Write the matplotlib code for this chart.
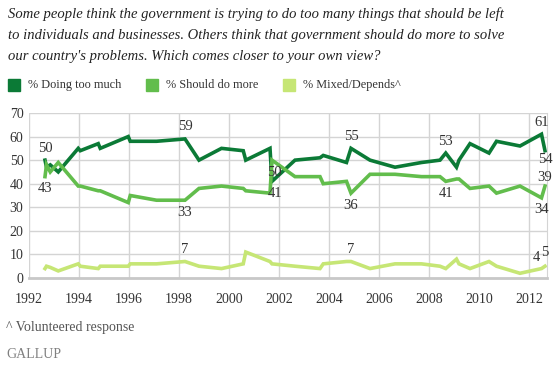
import matplotlib
matplotlib.use("Agg")
import matplotlib.pyplot as plt
from matplotlib.patches import Rectangle

# ---- data ----
dates = [1992.64, 1992.70, 1992.85, 1993.17, 1993.97, 1994.05, 1994.77, 1994.85,
         1995.97, 1996.05, 1997.10, 1998.24, 1998.80, 1999.70, 2000.57, 2000.67,
         2001.64, 2001.72, 2002.64, 2003.64, 2003.77, 2004.70, 2004.88, 2005.64,
         2006.64, 2007.70, 2008.44, 2008.67, 2009.10, 2009.20, 2009.64, 2010.40,
         2010.70, 2011.64, 2012.50, 2012.64]
too_much = [50, 47, 48, 45, 55, 54, 57, 55,
            60, 58, 58, 59, 50, 55, 54, 50,
            55, 41, 50, 51, 52, 49, 55, 50,
            47, 49, 50, 53, 47, 50, 57, 53,
            58, 56, 61, 54]
do_more = [43, 48, 45, 49, 39, 39, 37, 37,
           32, 35, 33, 33, 38, 39, 38, 37,
           36, 50, 43, 43, 40, 41, 36, 44,
           44, 43, 43, 41, 42, 42, 38, 39,
           36, 39, 34, 39]
mixed = [4, 5, 4.5, 3, 6, 5, 4, 5,
         5, 6, 6, 7, 5, 4, 6, 11,
         7, 6, 5, 4, 6, 7, 7, 4,
         6, 6, 5, 4, 8, 6, 4, 7,
         5, 2, 4, 5]

series_names = ["% Doing too much", "% Should do more", "% Mixed/Depends^"]
colors = ["#0b7a36", "#62bd4c", "#c6e675"]
year_ticks = list(range(1992, 2013, 2))
y_ticks = list(range(0, 71, 10))

# labels: (series index, date index, text, position)
labels = [
    (0, 0, "50", "above"), (1, 0, "43", "below"),
    (0, 11, "59", "above"), (1, 11, "33", "below"),
    (1, 17, "50", "under"), (0, 17, "41", "under"),
    (0, 22, "55", "above"), (1, 22, "36", "below"),
    (0, 27, "53", "above"), (1, 27, "41", "below"),
    (0, 34, "61", "above"), (1, 34, "34", "below"),
    (0, 35, "54", "below_tight"), (1, 35, "39", "above_tight"),
    (2, 11, "7", "above"), (2, 22, "7", "above"),
    (2, 34, "4", "aboveleft"), (2, 35, "5", "aboveright"),
]

W, H = 553, 374
fig = plt.figure(figsize=(W / 100, H / 100), dpi=100)
serif = "Liberation Serif"

ax = fig.add_axes([29 / W, (H - 278) / H, (547 - 29) / W, (278 - 113) / H])
ax.set_xlim(1992, 1992 + 518 / 25)
ax.set_ylim(0, 70)
ax.set_xticks(year_ticks)
ax.set_yticks(y_ticks)
ax.grid(True, color="#d4d4d4", lw=1)
ax.set_axisbelow(True)
for s in ["top", "left"]:
    ax.spines[s].set_visible(False)
ax.spines["right"].set_color("#d4d4d4")
ax.spines["bottom"].set_color("#c8c8c8")
ax.spines["bottom"].set_linewidth(2)
ax.tick_params(length=0, labelsize=10, labelcolor="#333333")
ax.tick_params(axis="x", pad=11)
ax.tick_params(axis="y", pad=4)
for lab in ax.get_xticklabels() + ax.get_yticklabels():
    lab.set_fontfamily(serif)

data = [too_much, do_more, mixed]
for vals, c in zip(data, colors):
    ax.plot(dates, vals, color=c, lw=2.6, solid_joinstyle="miter", clip_on=False)

offs = {"above": (0, 4, "center", "bottom"), "below": (0, -4, "center", "top"),
        "above_tight": (0, 1.5, "center", "bottom"), "below_tight": (0, -1.5, "center", "top"),
        "under": (2, -9, "center", "center"),
        "aboveleft": (-4, 3, "center", "bottom"), "aboveright": (0, 5, "center", "bottom")}
for si, di, txt, pos in labels:
    dx, dy, ha, va = offs[pos]
    ax.annotate(txt, (dates[di], data[si][di]), xytext=(dx, dy), textcoords="offset points",
                ha=ha, va=va, fontsize=10.5, family=serif, color="#333333")

title = ("Some people think the government is trying to do too many things that should be left\n"
         "to individuals and businesses. Others think that government should do more to solve\n"
         "our country's problems. Which comes closer to your own view?")
fig.text(8 / W, 1 - 7 / H, title, ha="left", va="top", fontsize=10.5, family=serif,
         style="italic", color="#222222", linespacing=1.8)

leg_x = [8, 146, 283]
for x, c, name in zip(leg_x, colors, series_names):
    fig.patches.append(Rectangle((x / W, 1 - 91 / H), 12 / W, 12 / H, color=c,
                                 transform=fig.transFigure, figure=fig))
    fig.text((x + 20) / W, 1 - 85 / H, name, ha="left", va="center", fontsize=8.8,
             family=serif, color="#333333")

fig.text(6 / W, 1 - 327 / H, "^ Volunteered response", ha="left", va="center",
         fontsize=10, family=serif, color="#555555")
fig.text(6 / W, 1 - 355 / H, "GALLUP", ha="left", va="center", fontsize=10,
         family=serif, color="#808080")

fig.savefig("out.png", dpi=100)
